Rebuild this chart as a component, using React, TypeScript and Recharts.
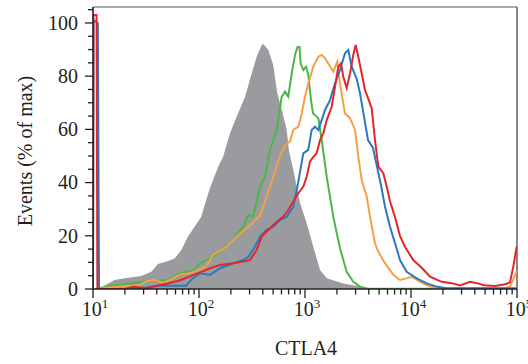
import React from 'react';
import { ComposedChart, Area, Line, XAxis, YAxis, ReferenceLine, Label } from 'recharts';

// x = CTLA4 fluorescence, y = events (% of max)
const grayControl = [
  { x: 11.4, y: 0 }, { x: 11.9, y: 0.6 }, { x: 16.0, y: 3.4 }, { x: 19.9, y: 4.0 }, { x: 28.6, y: 4.9 },
  { x: 35.5, y: 6.5 }, { x: 41.0, y: 9.4 }, { x: 51.0, y: 10.5 }, { x: 59.0, y: 11.5 }, { x: 68.1, y: 14.7 },
  { x: 78.7, y: 19.7 }, { x: 91.0, y: 23.4 }, { x: 105, y: 27.2 }, { x: 114, y: 32 }, { x: 127, y: 38 },
  { x: 152, y: 46 }, { x: 169, y: 49.7 }, { x: 196, y: 58.5 }, { x: 227, y: 64.8 }, { x: 272, y: 72.3 },
  { x: 314, y: 81 }, { x: 350, y: 87.3 }, { x: 391, y: 91.7 }, { x: 405, y: 92.1 }, { x: 451, y: 89.8 },
  { x: 503, y: 84 }, { x: 545, y: 74 }, { x: 607, y: 67 }, { x: 672, y: 59.8 }, { x: 706, y: 52 },
  { x: 776, y: 44.7 }, { x: 835, y: 38.5 }, { x: 898, y: 32.2 }, { x: 1038, y: 24.7 }, { x: 1198, y: 15.9 },
  { x: 1386, y: 7.1 }, { x: 1603, y: 4.0 }, { x: 2298, y: 2.1 }, { x: 3303, y: 0.9 }, { x: 3761, y: 0 },
];

const greenSeries = [
  { x: 10.4, y: 0 }, { x: 14.5, y: 1.1 }, { x: 29.6, y: 2.7 }, { x: 51.0, y: 3.4 }, { x: 66.2, y: 5.9 },
  { x: 91.0, y: 7.1 }, { x: 102, y: 9.7 }, { x: 136, y: 12.1 }, { x: 196, y: 17.2 }, { x: 262, y: 23.4 },
  { x: 292, y: 27.8 }, { x: 325, y: 27.2 }, { x: 376, y: 38.5 }, { x: 420, y: 42.2 }, { x: 468, y: 52.3 },
  { x: 541, y: 59.8 }, { x: 603, y: 72.3 }, { x: 648, y: 74.2 }, { x: 695, y: 72.3 }, { x: 749, y: 81 },
  { x: 805, y: 88 }, { x: 850, y: 91 }, { x: 887, y: 91 }, { x: 910, y: 84.8 }, { x: 964, y: 82.3 },
  { x: 1022, y: 83.6 }, { x: 1074, y: 80.5 }, { x: 1139, y: 71 }, { x: 1190, y: 66 }, { x: 1289, y: 64.8 },
  { x: 1340, y: 64 }, { x: 1437, y: 56 }, { x: 1603, y: 42.2 }, { x: 1849, y: 27.2 }, { x: 2138, y: 15.3 },
  { x: 2472, y: 6.5 }, { x: 2857, y: 2.7 }, { x: 3303, y: 0.9 }, { x: 3845, y: 0.2 }, { x: 100000, y: 0 },
];

const orangeSeries = [
  { x: 10.9, y: 0 }, { x: 13.9, y: 0.6 }, { x: 20.0, y: 1.0 }, { x: 27.8, y: 1.5 }, { x: 32.3, y: 3.0 },
  { x: 38.5, y: 3.4 }, { x: 45.8, y: 2.3 }, { x: 55.6, y: 3.8 }, { x: 66.2, y: 5.5 }, { x: 82.3, y: 5.9 },
  { x: 97.9, y: 7.1 }, { x: 116, y: 8.4 }, { x: 136, y: 12.8 }, { x: 182, y: 15.9 }, { x: 227, y: 19.7 },
  { x: 303, y: 24 }, { x: 376, y: 27.5 }, { x: 435, y: 34.7 }, { x: 502, y: 42.2 }, { x: 581, y: 50 },
  { x: 648, y: 54.1 }, { x: 722, y: 55.5 }, { x: 776, y: 59.8 }, { x: 865, y: 61 }, { x: 931, y: 66 },
  { x: 1000, y: 72.3 }, { x: 1074, y: 77.3 }, { x: 1197, y: 83.6 }, { x: 1335, y: 87.3 }, { x: 1437, y: 88 },
  { x: 1545, y: 86.7 }, { x: 1722, y: 83.6 }, { x: 1850, y: 81.7 }, { x: 2018, y: 85.4 }, { x: 2138, y: 77.3 },
  { x: 2384, y: 66 }, { x: 2658, y: 64.2 }, { x: 2963, y: 59.8 }, { x: 3184, y: 49.7 }, { x: 3428, y: 41 },
  { x: 3820, y: 34.7 }, { x: 4105, y: 27.2 }, { x: 4575, y: 17.2 }, { x: 4915, y: 14 }, { x: 5684, y: 9.7 },
  { x: 6808, y: 5.3 }, { x: 7870, y: 3.4 }, { x: 9100, y: 4.0 }, { x: 10150, y: 4.6 }, { x: 12160, y: 2.7 },
  { x: 15110, y: 0.9 }, { x: 18780, y: 0.3 }, { x: 77100, y: 0.3 }, { x: 85900, y: 1 }, { x: 95700, y: 5 },
  { x: 100000, y: 7 },
];

const blueSeries = [
  { x: 10, y: 0 }, { x: 10.1, y: 101 }, { x: 11.1, y: 100 }, { x: 11.4, y: 0 }, { x: 22.3, y: 0 },
  { x: 30.9, y: 0.5 }, { x: 42.9, y: 1.2 }, { x: 75.3, y: 1.2 }, { x: 84.0, y: 3.4 }, { x: 102, y: 5.9 },
  { x: 127, y: 5.3 }, { x: 158, y: 7.8 }, { x: 211, y: 9.7 }, { x: 262, y: 10.9 }, { x: 292, y: 12.1 },
  { x: 337, y: 15.9 }, { x: 376, y: 19.7 }, { x: 435, y: 22.2 }, { x: 502, y: 23.4 }, { x: 581, y: 25.9 },
  { x: 672, y: 27.2 }, { x: 776, y: 30.9 }, { x: 835, y: 37 }, { x: 898, y: 44 }, { x: 964, y: 51 },
  { x: 1074, y: 52.3 }, { x: 1156, y: 59.8 }, { x: 1242, y: 61 }, { x: 1335, y: 59.8 }, { x: 1437, y: 63.5 },
  { x: 1545, y: 67.3 }, { x: 1722, y: 71 }, { x: 1919, y: 77.3 }, { x: 2138, y: 82.3 }, { x: 2384, y: 88.6 },
  { x: 2562, y: 89.8 }, { x: 2758, y: 83.6 }, { x: 3074, y: 79 }, { x: 3303, y: 73.6 }, { x: 3603, y: 64.8 },
  { x: 3930, y: 56 }, { x: 4381, y: 53 }, { x: 4777, y: 46 }, { x: 5212, y: 39 }, { x: 5688, y: 30.9 },
  { x: 6339, y: 23.4 }, { x: 7066, y: 17.2 }, { x: 7870, y: 10.9 }, { x: 9108, y: 6.5 }, { x: 11320, y: 4.0 },
  { x: 14070, y: 2.1 }, { x: 17480, y: 0.9 }, { x: 21720, y: 0.3 }, { x: 100000, y: 0.3 },
];

const redSeries = [
  { x: 10, y: 0 }, { x: 10.1, y: 103 }, { x: 10.8, y: 103 }, { x: 11.0, y: 0 }, { x: 20.0, y: 0 },
  { x: 23.8, y: 0.8 }, { x: 27.8, y: 0.6 }, { x: 32.3, y: 0.3 }, { x: 38.5, y: 1.1 }, { x: 51.0, y: 2.1 },
  { x: 67.6, y: 3.4 }, { x: 91.6, y: 5.5 }, { x: 114, y: 7 }, { x: 127, y: 7.8 }, { x: 158, y: 9.0 },
  { x: 211, y: 9.7 }, { x: 262, y: 10.3 }, { x: 303, y: 10.9 }, { x: 350, y: 14.7 }, { x: 390, y: 19.7 },
  { x: 451, y: 22.2 }, { x: 541, y: 25.3 }, { x: 624, y: 27.2 }, { x: 691, y: 29.5 }, { x: 776, y: 33 },
  { x: 865, y: 36 }, { x: 964, y: 38.5 }, { x: 1038, y: 42.2 }, { x: 1114, y: 47.9 }, { x: 1197, y: 49.7 },
  { x: 1289, y: 51 }, { x: 1386, y: 56 }, { x: 1488, y: 58.5 }, { x: 1603, y: 63.5 }, { x: 1786, y: 68.5 },
  { x: 1919, y: 76 }, { x: 2061, y: 83.6 }, { x: 2186, y: 84.8 }, { x: 2298, y: 79.8 }, { x: 2472, y: 75.5 },
  { x: 2658, y: 81 }, { x: 2856, y: 88 }, { x: 3006, y: 91.7 }, { x: 3184, y: 87.3 }, { x: 3428, y: 81 },
  { x: 3683, y: 74.8 }, { x: 3955, y: 71.5 }, { x: 4256, y: 68 }, { x: 4575, y: 56 }, { x: 4915, y: 46 },
  { x: 5478, y: 43.5 }, { x: 5901, y: 38.5 }, { x: 6339, y: 33 }, { x: 7066, y: 27 }, { x: 7870, y: 20 },
  { x: 8770, y: 15.9 }, { x: 10450, y: 11 }, { x: 12620, y: 8 }, { x: 15110, y: 4.6 }, { x: 19480, y: 2.7 },
  { x: 24210, y: 2.2 }, { x: 29000, y: 1.3 }, { x: 36030, y: 2.7 }, { x: 41950, y: 2.2 }, { x: 48840, y: 1.4 },
  { x: 62000, y: 1.1 }, { x: 77100, y: 1.8 }, { x: 85900, y: 2.5 }, { x: 92300, y: 8.4 }, { x: 99300, y: 15.9 },
];

const xMajorTicks = [10, 100, 1000, 10000, 100000];
const xExponents = ['1', '2', '3', '4', '5'];
const xMinorTicks = [
  20, 30, 40, 50, 60, 70, 80, 90,
  200, 300, 400, 500, 600, 700, 800, 900,
  2000, 3000, 4000, 5000, 6000, 7000, 8000, 9000,
  20000, 30000, 40000, 50000, 60000, 70000, 80000, 90000,
];
const yMajorTicks = [0, 20, 40, 60, 80, 100];
const yMinorTicks = [5, 10, 15, 25, 30, 35, 45, 50, 55, 65, 70, 75, 85, 90, 95, 105];

const xAllTicks = [...xMajorTicks, ...xMinorTicks].sort((a, b) => a - b);
const yAllTicks = [...yMajorTicks, ...yMinorTicks].sort((a, b) => a - b);

const INK = '#231f20';
const FONT = '"Liberation Serif", "Times New Roman", serif';

function XTick(props: any) {
  const { x, y, payload } = props;
  const v = payload.value;
  const idx = xMajorTicks.indexOf(v);
  const major = idx >= 0;
  return (
    <g>
      <line x1={x} x2={x} y1={y} y2={y + (major ? 9 : 5.5)} stroke={INK} strokeWidth={1.3} />
      {major && (
        <text x={x + 2} y={y + 27} textAnchor="middle" fontFamily={FONT} fontSize={20} fill={INK}>
          10<tspan dy={-8} fontSize={13}>{xExponents[idx]}</tspan>
        </text>
      )}
    </g>
  );
}

function YTick(props: any) {
  const { x, y, payload } = props;
  const v = payload.value;
  const major = yMajorTicks.includes(v);
  return (
    <g>
      <line x1={x - (major ? 8 : 5)} x2={x} y1={y} y2={y} stroke={INK} strokeWidth={1.3} />
      {major && (
        <text x={x - 15} y={y + 6.8} textAnchor="end" fontFamily={FONT} fontSize={20} fill={INK}>
          {v}
        </text>
      )}
    </g>
  );
}

export default function App() {
  return (
    <div style={{ position: 'absolute', left: 0, top: 0, width: 528, height: 364, background: '#fff' }}>
      <ComposedChart width={528} height={364} margin={{ top: 7, right: 11, bottom: 0, left: 0 }}>
        <XAxis
          dataKey="x"
          type="number"
          scale="log"
          domain={[10, 100000]}
          allowDataOverflow
          ticks={xAllTicks}
          interval={0}
          tick={<XTick />}
          tickLine={false}
          tickSize={0}
          tickMargin={0}
          height={75}
          axisLine={{ stroke: INK, strokeWidth: 1.6 }}
        >
          <Label
            content={() => (
              <text x={306} y={355} textAnchor="middle" fontFamily={FONT} fontSize={20} fill={INK}>
                CTLA4
              </text>
            )}
          />
        </XAxis>
        <YAxis
          type="number"
          domain={[0, 106]}
          allowDataOverflow
          ticks={yAllTicks}
          interval={0}
          tick={<YTick />}
          tickLine={false}
          tickSize={0}
          tickMargin={0}
          width={93}
          axisLine={{ stroke: INK, strokeWidth: 1.6 }}
        >
          <Label
            content={() => (
              <text
                x={32}
                y={151}
                transform="rotate(-90 32 151)"
                textAnchor="middle"
                fontFamily={FONT}
                fontSize={20}
                fill={INK}
              >
                Events (% of max)
              </text>
            )}
          />
        </YAxis>
        <ReferenceLine y={106} stroke="#555" strokeWidth={1.2} />
        <ReferenceLine x={100000} stroke="#555" strokeWidth={1.4} />
        <Area
          data={grayControl}
          dataKey="y"
          type="linear"
          fill="#9a9b9e"
          fillOpacity={1}
          stroke="none"
          isAnimationActive={false}
        />
        <Line data={greenSeries} dataKey="y" type="linear" stroke="#4cb648" strokeWidth={2} dot={false} isAnimationActive={false} />
        <Line data={orangeSeries} dataKey="y" type="linear" stroke="#f4a046" strokeWidth={2} dot={false} isAnimationActive={false} />
        <Line data={blueSeries} dataKey="y" type="linear" stroke="#2b79c2" strokeWidth={2} dot={false} isAnimationActive={false} />
        <Line data={redSeries} dataKey="y" type="linear" stroke="#e3262b" strokeWidth={2} dot={false} isAnimationActive={false} />
      </ComposedChart>
    </div>
  );
}
